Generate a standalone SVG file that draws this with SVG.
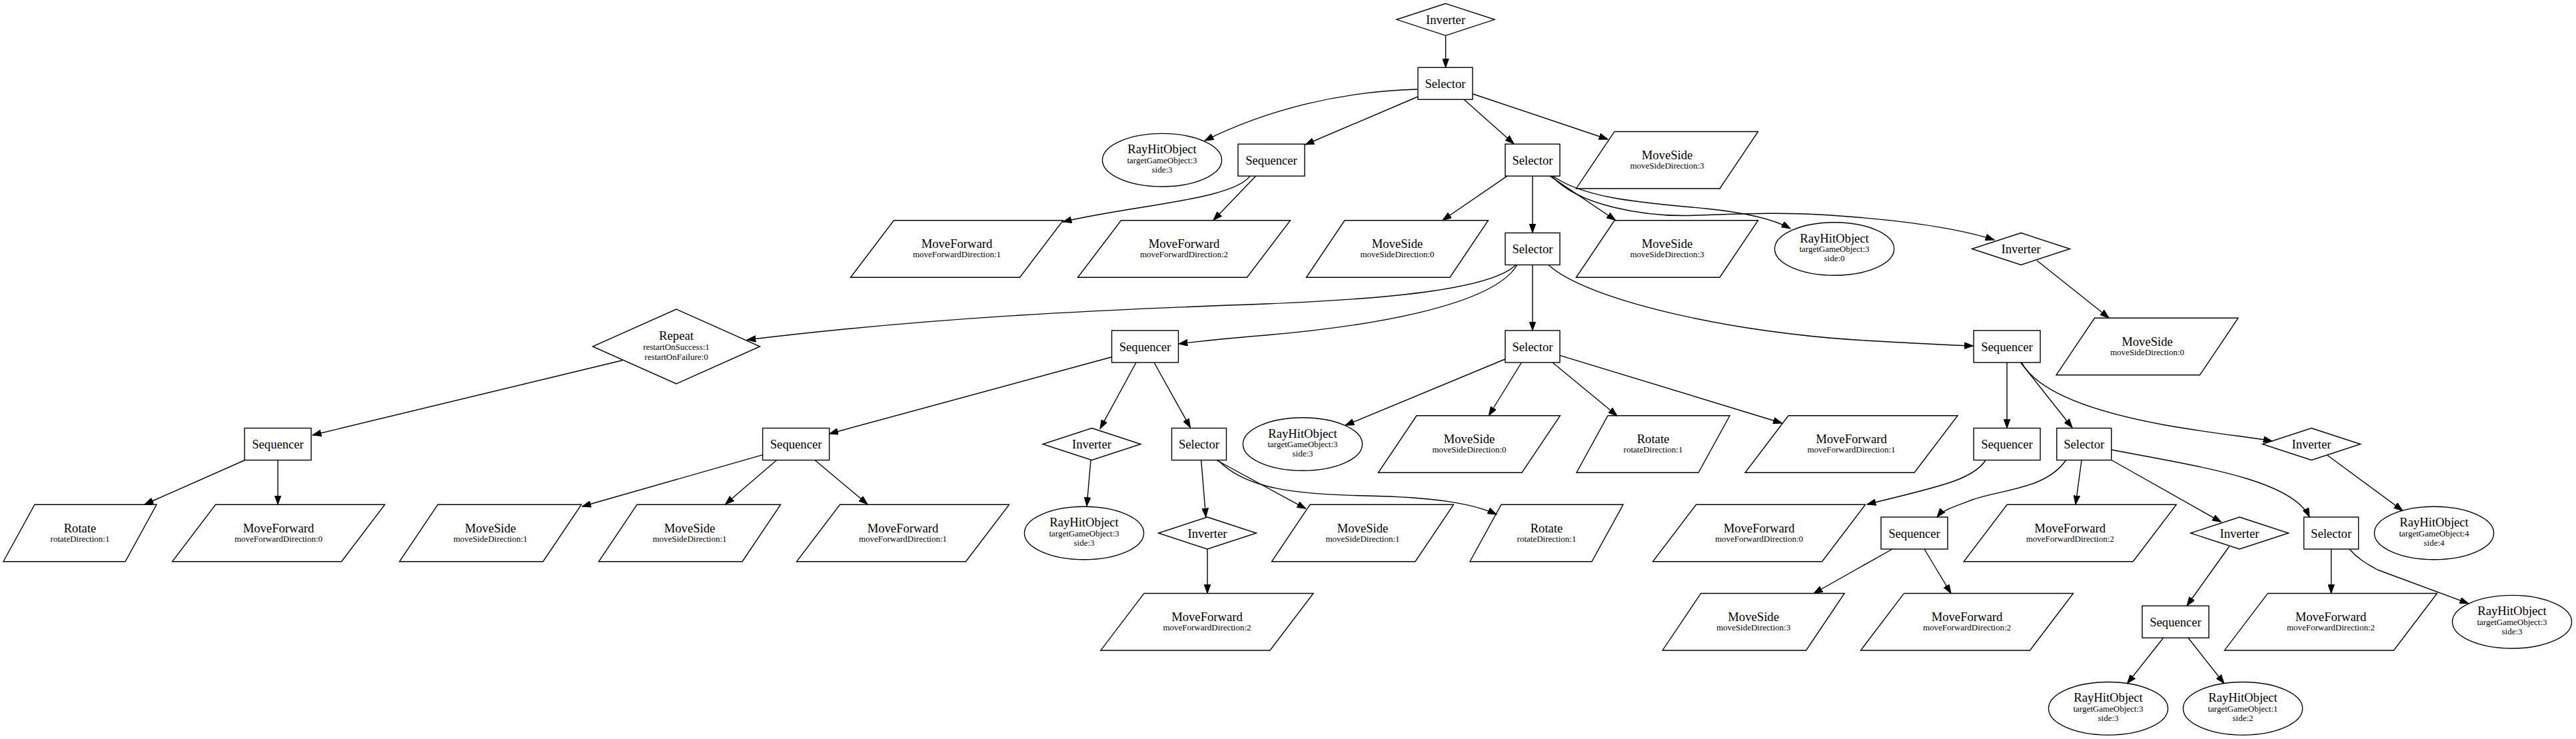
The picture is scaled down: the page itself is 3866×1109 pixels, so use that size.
<svg xmlns="http://www.w3.org/2000/svg" width="3866" height="1109" viewBox="0 0 3866 1109">
<style>
.sh{fill:#fff;stroke:#000;stroke-width:1.4}
text{font-family:"Liberation Serif","Times New Roman",serif;text-anchor:middle;fill:#000}
.m{font-size:18.67px}
.s{font-size:13px}
#edges path{fill:none;stroke:#000;stroke-width:1.4;marker-end:url(#a)}
</style>
<defs>
<marker id="a" markerUnits="userSpaceOnUse" viewBox="0 0 14 10" refX="13.3" refY="5" markerWidth="14" markerHeight="10" orient="auto"><path d="M0,0.2 L13.3,5 L0,9.8 z" fill="#000" stroke="#000" stroke-width="1"/></marker>
<rect id="bSel" x="-41" y="-24" width="82" height="48"/>
<rect id="bSeq" x="-50" y="-24" width="100" height="48"/>
<polygon id="dInv" points="0,-24 73.5,0 0,24 -73.5,0"/>
<polygon id="dRep" points="0,-56 125.5,0 0,56 -125.5,0"/>
<ellipse id="eRay" rx="89.6" ry="39.8"/>
<polygon id="pMF" points="-94.5,-42.75 159.5,-42.75 94.5,42.75 -159.5,42.75"/>
<polygon id="pMS" points="-79,-42.75 136.5,-42.75 79,42.75 -136.5,42.75"/>
<polygon id="pRo" points="-68,-42.75 115,-42.75 68,42.75 -115,42.75"/>
</defs>
<rect width="3866" height="1109" fill="#fff"/>
<g id="nodes">
<g id="n1"><use href="#dInv" class="sh" x="2169.6" y="29.3"/><text class="m" x="2169.6" y="35.8">Inverter</text></g>
<g id="n2"><use href="#bSel" class="sh" x="2169" y="125.3"/><text class="m" x="2169" y="131.8">Selector</text></g>
<g id="n3"><use href="#eRay" class="sh" x="1744" y="240.2"/><text class="m" x="1744" y="230.2">RayHitObject</text><text class="s" x="1744" y="244.7">targetGameObject:3</text><text class="s" x="1744" y="259">side:3</text></g>
<g id="n4"><use href="#bSeq" class="sh" x="1908" y="240.2"/><text class="m" x="1908" y="246.7">Sequencer</text></g>
<g id="n5"><use href="#bSel" class="sh" x="2300" y="240.2"/><text class="m" x="2300" y="246.7">Selector</text></g>
<g id="n6"><use href="#pMS" class="sh" x="2502" y="240.2"/><text class="m" x="2502" y="238.7">MoveSide</text><text class="s" x="2502" y="252.7">moveSideDirection:3</text></g>
<g id="n7"><use href="#pMF" class="sh" x="1436" y="373.5"/><text class="m" x="1436" y="372">MoveForward</text><text class="s" x="1436" y="386">moveForwardDirection:1</text></g>
<g id="n8"><use href="#pMF" class="sh" x="1777" y="373.5"/><text class="m" x="1777" y="372">MoveForward</text><text class="s" x="1777" y="386">moveForwardDirection:2</text></g>
<g id="n9"><use href="#pMS" class="sh" x="2097" y="373.5"/><text class="m" x="2097" y="372">MoveSide</text><text class="s" x="2097" y="386">moveSideDirection:0</text></g>
<g id="n10"><use href="#bSel" class="sh" x="2300" y="373.5"/><text class="m" x="2300" y="380">Selector</text></g>
<g id="n11"><use href="#pMS" class="sh" x="2502" y="373.5"/><text class="m" x="2502" y="372">MoveSide</text><text class="s" x="2502" y="386">moveSideDirection:3</text></g>
<g id="n12"><use href="#eRay" class="sh" x="2753" y="373.5"/><text class="m" x="2753" y="363.5">RayHitObject</text><text class="s" x="2753" y="378">targetGameObject:3</text><text class="s" x="2753" y="392.3">side:0</text></g>
<g id="n13"><use href="#dInv" class="sh" x="3033" y="373.5"/><text class="m" x="3033" y="380">Inverter</text></g>
<g id="n14"><use href="#pMS" class="sh" x="3222.5" y="520"/><text class="m" x="3222.5" y="518.5">MoveSide</text><text class="s" x="3222.5" y="532.5">moveSideDirection:0</text></g>
<g id="n15"><use href="#dRep" class="sh" x="1015" y="520"/><text class="m" x="1015" y="510">Repeat</text><text class="s" x="1015" y="525">restartOnSuccess:1</text><text class="s" x="1015" y="539.5">restartOnFailure:0</text></g>
<g id="n16"><use href="#bSeq" class="sh" x="1718.5" y="520"/><text class="m" x="1718.5" y="526.5">Sequencer</text></g>
<g id="n17"><use href="#bSel" class="sh" x="2300" y="520"/><text class="m" x="2300" y="526.5">Selector</text></g>
<g id="n18"><use href="#bSeq" class="sh" x="3012" y="520"/><text class="m" x="3012" y="526.5">Sequencer</text></g>
<g id="n19"><use href="#bSeq" class="sh" x="417" y="666.5"/><text class="m" x="417" y="673">Sequencer</text></g>
<g id="n20"><use href="#pRo" class="sh" x="120" y="800"/><text class="m" x="120" y="798.5">Rotate</text><text class="s" x="120" y="812.5">rotateDirection:1</text></g>
<g id="n21"><use href="#pMF" class="sh" x="418" y="800"/><text class="m" x="418" y="798.5">MoveForward</text><text class="s" x="418" y="812.5">moveForwardDirection:0</text></g>
<g id="n22"><use href="#bSeq" class="sh" x="1194.6" y="666.5"/><text class="m" x="1194.6" y="673">Sequencer</text></g>
<g id="n23"><use href="#dInv" class="sh" x="1638.5" y="666.5"/><text class="m" x="1638.5" y="673">Inverter</text></g>
<g id="n24"><use href="#bSel" class="sh" x="1799.5" y="666.5"/><text class="m" x="1799.5" y="673">Selector</text></g>
<g id="n25"><use href="#pMS" class="sh" x="736" y="800"/><text class="m" x="736" y="798.5">MoveSide</text><text class="s" x="736" y="812.5">moveSideDirection:1</text></g>
<g id="n26"><use href="#pMS" class="sh" x="1035" y="800"/><text class="m" x="1035" y="798.5">MoveSide</text><text class="s" x="1035" y="812.5">moveSideDirection:1</text></g>
<g id="n27"><use href="#pMF" class="sh" x="1355" y="800"/><text class="m" x="1355" y="798.5">MoveForward</text><text class="s" x="1355" y="812.5">moveForwardDirection:1</text></g>
<g id="n28"><use href="#eRay" class="sh" x="1627" y="800"/><text class="m" x="1627" y="790">RayHitObject</text><text class="s" x="1627" y="804.5">targetGameObject:3</text><text class="s" x="1627" y="818.8">side:3</text></g>
<g id="n29"><use href="#dInv" class="sh" x="1812" y="800"/><text class="m" x="1812" y="806.5">Inverter</text></g>
<g id="n30"><use href="#pMS" class="sh" x="2045" y="800"/><text class="m" x="2045" y="798.5">MoveSide</text><text class="s" x="2045" y="812.5">moveSideDirection:1</text></g>
<g id="n31"><use href="#pRo" class="sh" x="2321" y="800"/><text class="m" x="2321" y="798.5">Rotate</text><text class="s" x="2321" y="812.5">rotateDirection:1</text></g>
<g id="n32"><use href="#pMF" class="sh" x="1811.5" y="933.2"/><text class="m" x="1811.5" y="931.7">MoveForward</text><text class="s" x="1811.5" y="945.7">moveForwardDirection:2</text></g>
<g id="n33"><use href="#eRay" class="sh" x="1955" y="666.5"/><text class="m" x="1955" y="656.5">RayHitObject</text><text class="s" x="1955" y="671">targetGameObject:3</text><text class="s" x="1955" y="685.3">side:3</text></g>
<g id="n34"><use href="#pMS" class="sh" x="2205" y="666.5"/><text class="m" x="2205" y="665">MoveSide</text><text class="s" x="2205" y="679">moveSideDirection:0</text></g>
<g id="n35"><use href="#pRo" class="sh" x="2481" y="666.5"/><text class="m" x="2481" y="665">Rotate</text><text class="s" x="2481" y="679">rotateDirection:1</text></g>
<g id="n36"><use href="#pMF" class="sh" x="2778.5" y="666.5"/><text class="m" x="2778.5" y="665">MoveForward</text><text class="s" x="2778.5" y="679">moveForwardDirection:1</text></g>
<g id="n37"><use href="#bSeq" class="sh" x="3012" y="666.5"/><text class="m" x="3012" y="673">Sequencer</text></g>
<g id="n38"><use href="#bSel" class="sh" x="3127.7" y="666.5"/><text class="m" x="3127.7" y="673">Selector</text></g>
<g id="n39"><use href="#dInv" class="sh" x="3469" y="666.5"/><text class="m" x="3469" y="673">Inverter</text></g>
<g id="n40"><use href="#pMF" class="sh" x="2640" y="800"/><text class="m" x="2640" y="798.5">MoveForward</text><text class="s" x="2640" y="812.5">moveForwardDirection:0</text></g>
<g id="n41"><use href="#bSeq" class="sh" x="2873" y="800"/><text class="m" x="2873" y="806.5">Sequencer</text></g>
<g id="n42"><use href="#pMF" class="sh" x="3106.7" y="800"/><text class="m" x="3106.7" y="798.5">MoveForward</text><text class="s" x="3106.7" y="812.5">moveForwardDirection:2</text></g>
<g id="n43"><use href="#dInv" class="sh" x="3361" y="800"/><text class="m" x="3361" y="806.5">Inverter</text></g>
<g id="n44"><use href="#bSel" class="sh" x="3498.6" y="800"/><text class="m" x="3498.6" y="806.5">Selector</text></g>
<g id="n45"><use href="#eRay" class="sh" x="3653" y="800"/><text class="m" x="3653" y="790">RayHitObject</text><text class="s" x="3653" y="804.5">targetGameObject:4</text><text class="s" x="3653" y="818.8">side:4</text></g>
<g id="n46"><use href="#pMS" class="sh" x="2631.6" y="933.2"/><text class="m" x="2631.6" y="931.7">MoveSide</text><text class="s" x="2631.6" y="945.7">moveSideDirection:3</text></g>
<g id="n47"><use href="#pMF" class="sh" x="2952" y="933.2"/><text class="m" x="2952" y="931.7">MoveForward</text><text class="s" x="2952" y="945.7">moveForwardDirection:2</text></g>
<g id="n48"><use href="#bSeq" class="sh" x="3265" y="933.2"/><text class="m" x="3265" y="939.7">Sequencer</text></g>
<g id="n49"><use href="#pMF" class="sh" x="3498" y="933.2"/><text class="m" x="3498" y="931.7">MoveForward</text><text class="s" x="3498" y="945.7">moveForwardDirection:2</text></g>
<g id="n50"><use href="#eRay" class="sh" x="3770" y="933.2"/><text class="m" x="3770" y="923.2">RayHitObject</text><text class="s" x="3770" y="937.7">targetGameObject:3</text><text class="s" x="3770" y="952">side:3</text></g>
<g id="n51"><use href="#eRay" class="sh" x="3164" y="1063.3"/><text class="m" x="3164" y="1053.3">RayHitObject</text><text class="s" x="3164" y="1067.8">targetGameObject:3</text><text class="s" x="3164" y="1082.1">side:3</text></g>
<g id="n52"><use href="#eRay" class="sh" x="3366" y="1063.3"/><text class="m" x="3366" y="1053.3">RayHitObject</text><text class="s" x="3366" y="1067.8">targetGameObject:1</text><text class="s" x="3366" y="1082.1">side:2</text></g>
</g>
<g id="edges">
<path d="M2169.6,53.3 L2169.6,101.3"/>
<path d="M2127,134 C2015,137 1905,163 1808,211"/>
<path d="M2128,145 L1959,217"/>
<path d="M2197,149.3 L2272,215.7"/>
<path d="M2210.5,141 L2413,209"/>
<path d="M1876,264.2 C1850,300 1700,308 1595,333"/>
<path d="M1884.6,264.2 L1821,330.5"/>
<path d="M2262,264.2 L2165,330.5"/>
<path d="M2300,264.2 L2300,349.3"/>
<path d="M2326,264.2 L2424.5,330.5"/>
<path d="M2331,264.2 C2380,300 2480,305 2560,313 C2620,319 2660,328 2687,343"/>
<path d="M2329,264.2 C2370,310 2470,324 2530,323.5 C2600,322 2660,318 2730,322 C2830,328 2930,340 2993,360"/>
<path d="M3057,391 L3165,477"/>
<path d="M2275,397.5 C2240,432 2100,448 1900,456 C1650,465 1400,476 1121,510"/>
<path d="M2277,397.5 C2240,460 2050,490 1900,503 C1840,508 1800,512 1769,516"/>
<path d="M2300,397.5 L2300,496"/>
<path d="M2324,397.5 C2380,450 2600,500 2800,511 C2870,515 2920,518 2961.5,519"/>
<path d="M934,540.7 L469,653"/>
<path d="M367.5,690.5 L217,757"/>
<path d="M417,690.5 L417,757"/>
<path d="M1668.5,535.7 L1244.5,651"/>
<path d="M1705,544 L1651,643.3"/>
<path d="M1732,544 L1786.5,641.7"/>
<path d="M1144.5,682.7 L873.7,760"/>
<path d="M1165.6,690.5 L1088.5,756.7"/>
<path d="M1223,690.5 L1302,756.7"/>
<path d="M1637,690.5 L1631,759.5"/>
<path d="M1802.7,690.5 L1809.7,776"/>
<path d="M1825.6,690.5 L1959.6,763.3"/>
<path d="M1828,690.5 C1870,735 1950,742 2050,744 C2150,746 2210,755 2246,772"/>
<path d="M1812,824 L1812,890.5"/>
<path d="M2258.7,539 L2019,638.3"/>
<path d="M2283.5,544 L2234.4,623.5"/>
<path d="M2330,544 L2427,624"/>
<path d="M2341,533.3 L2674.5,635"/>
<path d="M3012,544 L3012,642.5"/>
<path d="M3032.4,544 L3110,641.7"/>
<path d="M3034,544 C3058,588 3140,618 3250,638 C3330,652 3380,656 3410,662"/>
<path d="M2980,690.5 C2960,722 2900,732 2802,757"/>
<path d="M3100.5,690.5 C3070,735 3000,735 2960,750 C2930,761 2915,766 2907,776"/>
<path d="M3124,690.5 L3115,757"/>
<path d="M3169,690.5 L3333.4,783.3"/>
<path d="M3169,675 C3300,700 3440,720 3466,776"/>
<path d="M3493,683.3 L3605.8,766.3"/>
<path d="M2840,824 L2722,890.5"/>
<path d="M2888,824 L2928,890.5"/>
<path d="M3345.6,820 L3282,909"/>
<path d="M3246.7,957.3 L3192.5,1025.7"/>
<path d="M3284,957.3 L3338,1025.7"/>
<path d="M3498.6,824 L3498.6,890.5"/>
<path d="M3526,824 C3538,838 3550,845 3568,855 L3704.7,905.7"/>
</g>
</svg>
